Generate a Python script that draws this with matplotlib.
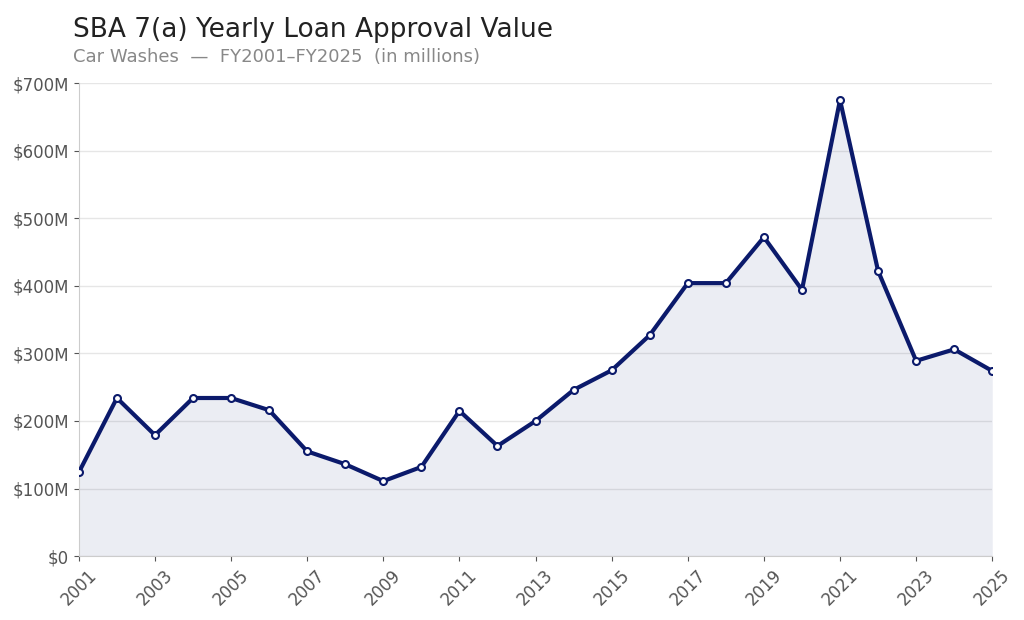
import numpy as np
import matplotlib.pyplot as plt
from matplotlib.ticker import FuncFormatter

years = list(range(2001, 2026))
values = [124, 234, 179, 234, 234, 216, 155, 136, 111, 132, 215, 163, 200,
          246, 275, 327, 404, 404, 472, 394, 675, 422, 289, 306, 274]

navy = '#0b1a6b'
fig = plt.figure(figsize=(10.24, 6.2), dpi=100)
ax = fig.add_axes([0.077, 0.103, 0.892, 0.763])

ax.fill_between(years, values, color=navy, alpha=0.08, lw=0)
ax.plot(years, values, color=navy, lw=3, marker='o', markersize=5,
        markerfacecolor='white', markeredgecolor=navy, markeredgewidth=1.5, zorder=3)

ax.set_xlim(2001, 2025)
ax.set_ylim(0, 700)
ax.set_yticks(range(0, 701, 100))
ax.yaxis.set_major_formatter(FuncFormatter(lambda v, p: f'${int(v)}M' if v else '$0'))
ax.set_xticks(range(2001, 2026, 2))
ax.tick_params(axis='x', rotation=45, labelsize=12, colors='#555555')
ax.tick_params(axis='y', labelsize=12, colors='#555555')
ax.grid(axis='y', color='#e6e6e6', lw=1)
ax.set_axisbelow(True)
for s in ['top', 'right']:
    ax.spines[s].set_visible(False)
for s in ['left', 'bottom']:
    ax.spines[s].set_color('#cccccc')

fig.text(0.071, 0.94, 'SBA 7(a) Yearly Loan Approval Value', fontsize=19, color='#222222')
fig.text(0.071, 0.9, 'Car Washes  —  FY2001–FY2025  (in millions)', fontsize=13, color='#888888')

fig.savefig('out.png')
